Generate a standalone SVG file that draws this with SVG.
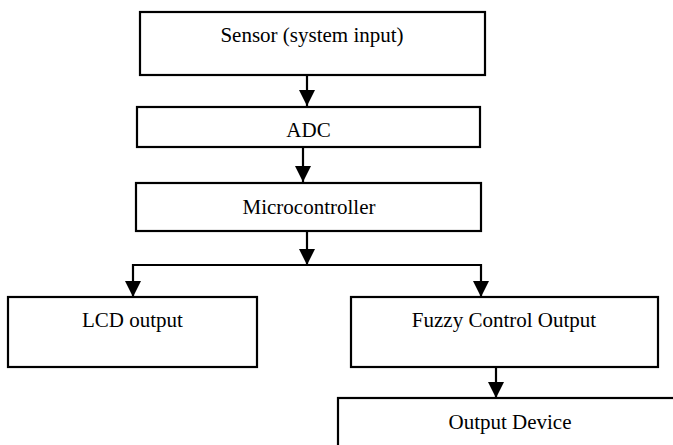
<svg xmlns="http://www.w3.org/2000/svg" width="673" height="445" viewBox="0 0 673 445">
<style>
.box{fill:#fff;stroke:#000;stroke-width:2.2}
.lbl{font-family:"Liberation Serif","Times New Roman",serif;font-size:21px;fill:#000;text-anchor:middle}
.con{fill:none;stroke:#000;stroke-width:2.2}
</style>
<defs>
<marker id="ah" viewBox="0 0 16 16" refX="16" refY="8" markerWidth="16" markerHeight="16" markerUnits="userSpaceOnUse" orient="auto">
<path d="M0,0 L16,8 L0,16 z" fill="#000"/>
</marker>
</defs>
<rect width="673" height="445" fill="#fff"/>
<g id="sensor"><rect class="box" x="140" y="12" width="345" height="63"/><text class="lbl" x="312" y="42">Sensor (system input)</text></g>
<g id="adc"><rect class="box" x="137" y="107" width="343" height="40"/><text class="lbl" x="308.5" y="137">ADC</text></g>
<g id="micro"><rect class="box" x="136" y="183" width="345" height="48"/><text class="lbl" x="309" y="214">Microcontroller</text></g>
<g id="lcd"><rect class="box" x="8" y="297" width="249" height="70"/><text class="lbl" x="132.5" y="327">LCD output</text></g>
<g id="fuzzy"><rect class="box" x="351" y="297" width="307" height="70"/><text class="lbl" x="504" y="327">Fuzzy Control Output</text></g>
<g id="outdev"><rect class="box" x="338" y="398" width="345" height="60"/><text class="lbl" x="510" y="429">Output Device</text></g>
<g id="connectors">
<path class="con" d="M307,75 V106" marker-end="url(#ah)"/>
<path class="con" d="M303,147 V182" marker-end="url(#ah)"/>
<path class="con" d="M307,231 V265"  marker-end="url(#ah)"/>
<path class="con" d="M133,265 H481"/>
<path class="con" d="M133,264 V297" marker-end="url(#ah)"/>
<path class="con" d="M481,264 V297" marker-end="url(#ah)"/>
<path class="con" d="M496,367 V398" marker-end="url(#ah)"/>
</g>
</svg>
